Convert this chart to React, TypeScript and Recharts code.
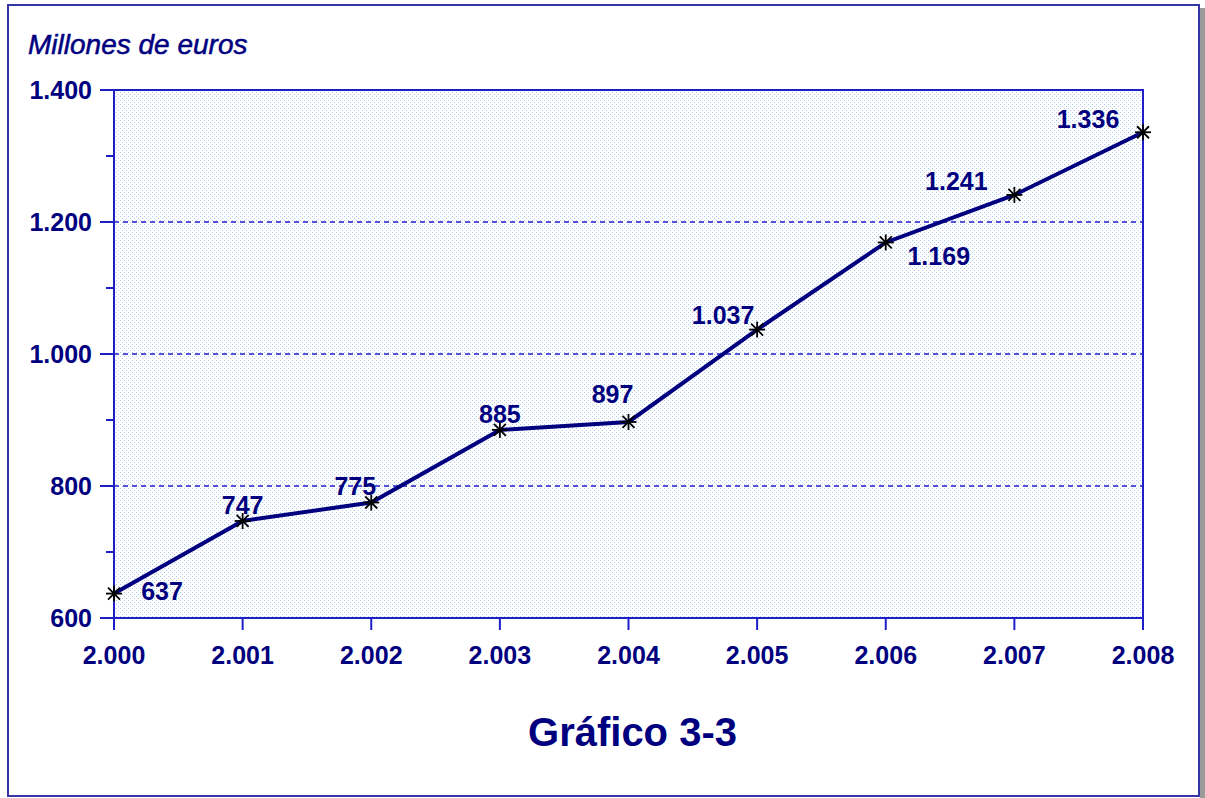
import { LineChart, Line, XAxis, YAxis, ReferenceArea, ReferenceLine } from 'recharts'

const years = ['2.000', '2.001', '2.002', '2.003', '2.004', '2.005', '2.006', '2.007', '2.008']
const amounts = [637, 747, 775, 885, 897, 1037, 1169, 1241, 1336]
const yTicks = [600, 700, 800, 900, 1000, 1100, 1200, 1300, 1400]
const gridLevels = [800, 1000, 1200]
// where each value label sits relative to its point (text centre)
const labelDx = [48, 0, -16, 0, -16, -34, 53, -58, -55]
const labelDy = [-3, -16, -17, -16, -28, -15, 14, -14, -13]

const C = {
  navy: '#00007f',
  axis: '#1f1fc8',
  frame: '#3535a5',
  dots: '#abcbf2',
  font: '"Liberation Sans", Arial, sans-serif',
} as const

const data = years.map((year, i) => ({ year, value: amounts[i] }))

const fmt = (n: number) =>
  n >= 1000 ? `${Math.floor(n / 1000)}.${String(n % 1000).padStart(3, '0')}` : String(n)

function YTick({ x, y, payload }: any) {
  const major = payload.value % 200 === 0
  return (
    <g>
      <line x1={x - (major ? 14 : 8)} x2={x} y1={y} y2={y} stroke={C.axis} strokeWidth={2} />
      {major && (
        <text x={x - 22} y={y + 9} textAnchor="end" fill={C.navy} fontSize={25} fontWeight={700} fontFamily={C.font}>
          {fmt(payload.value)}
        </text>
      )}
    </g>
  )
}

function XTick({ x, y, payload }: any) {
  return (
    <g>
      <line x1={x} x2={x} y1={y} y2={y + 12} stroke={C.axis} strokeWidth={2} />
      <text x={x} y={y + 46} textAnchor="middle" fill={C.navy} fontSize={25} fontWeight={700} fontFamily={C.font}>
        {payload.value}
      </text>
    </g>
  )
}

function Star({ cx, cy }: any) {
  const r = 8
  const d = 6
  return (
    <g stroke="#000" strokeWidth={1.8}>
      <line x1={cx} x2={cx} y1={cy - r} y2={cy + r} />
      <line x1={cx - d} x2={cx + d} y1={cy - d} y2={cy + d} />
      <line x1={cx - d} x2={cx + d} y1={cy + d} y2={cy - d} />
      <line x1={cx - r} x2={cx + r} y1={cy} y2={cy} />
    </g>
  )
}

function ValueLabel({ x, y, index, value }: any) {
  return (
    <text
      x={x + labelDx[index]}
      y={y + labelDy[index] + 9}
      textAnchor="middle"
      fill={C.navy}
      fontSize={25}
      fontWeight={700}
      fontFamily={C.font}
    >
      {fmt(value)}
    </text>
  )
}

export default function App() {
  return (
    <div style={{ position: 'absolute', left: 0, top: 0, width: 1205, height: 798, background: '#fff', overflow: 'hidden' }}>
      <div style={{ position: 'absolute', left: 1200, top: 8, width: 5, height: 790, background: '#9a9a9a' }} />
      <div style={{
        position: 'absolute', left: 7, top: 4, width: 1189, height: 789,
        border: `2px solid ${C.frame}`,
      }} />
      <div style={{
        position: 'absolute', left: 28, top: 29, fontFamily: C.font, fontStyle: 'italic',
        fontSize: 28, color: C.navy, whiteSpace: 'nowrap', WebkitTextStroke: `0.5px ${C.navy}`,
      }}>
        Millones de euros
      </div>
      <div style={{
        position: 'absolute', left: 0, width: 1265, top: 710, textAlign: 'center', fontFamily: C.font,
        fontWeight: 700, fontSize: 40, color: C.navy,
      }}>
        Gráfico 3-3
      </div>
      <div style={{ position: 'absolute', left: 0, top: 0 }}>
        <LineChart width={1205} height={798} data={data} margin={{ top: 90, right: 62, bottom: 120, left: 14 }}>
          <defs>
            <pattern id="dotFill" width={4} height={4} patternUnits="userSpaceOnUse">
              <rect width={4} height={4} fill="#fff" />
              <rect x={0} y={0} width={1} height={1} fill={C.dots} />
              <rect x={2} y={2} width={1} height={1} fill={C.dots} />
            </pattern>
          </defs>
          <XAxis
            dataKey="year"
            height={60}
            axisLine={{ stroke: C.axis, strokeWidth: 2 }}
            tickLine={false}
            tickSize={0}
            tickMargin={0}
            interval={0}
            tick={<XTick />}
          />
          <YAxis
            width={100}
            domain={[600, 1400]}
            ticks={yTicks}
            interval={0}
            axisLine={{ stroke: C.axis, strokeWidth: 2 }}
            tickLine={false}
            tickSize={0}
            tickMargin={0}
            tick={<YTick />}
          />
          <ReferenceArea
            x1="2.000" x2="2.008" y1={600} y2={1400}
            fill="url(#dotFill)" fillOpacity={1}
            stroke={C.axis} strokeWidth={2}
          />
          {gridLevels.map((lv) => (
            <ReferenceLine key={lv} y={lv} stroke={C.axis} strokeWidth={1.5} strokeDasharray="5 4" />
          ))}
          <Line
            type="linear"
            dataKey="value"
            stroke={C.navy}
            strokeWidth={4}
            dot={<Star />}
            activeDot={false}
            label={<ValueLabel />}
            isAnimationActive={false}
          />
        </LineChart>
      </div>
    </div>
  )
}
